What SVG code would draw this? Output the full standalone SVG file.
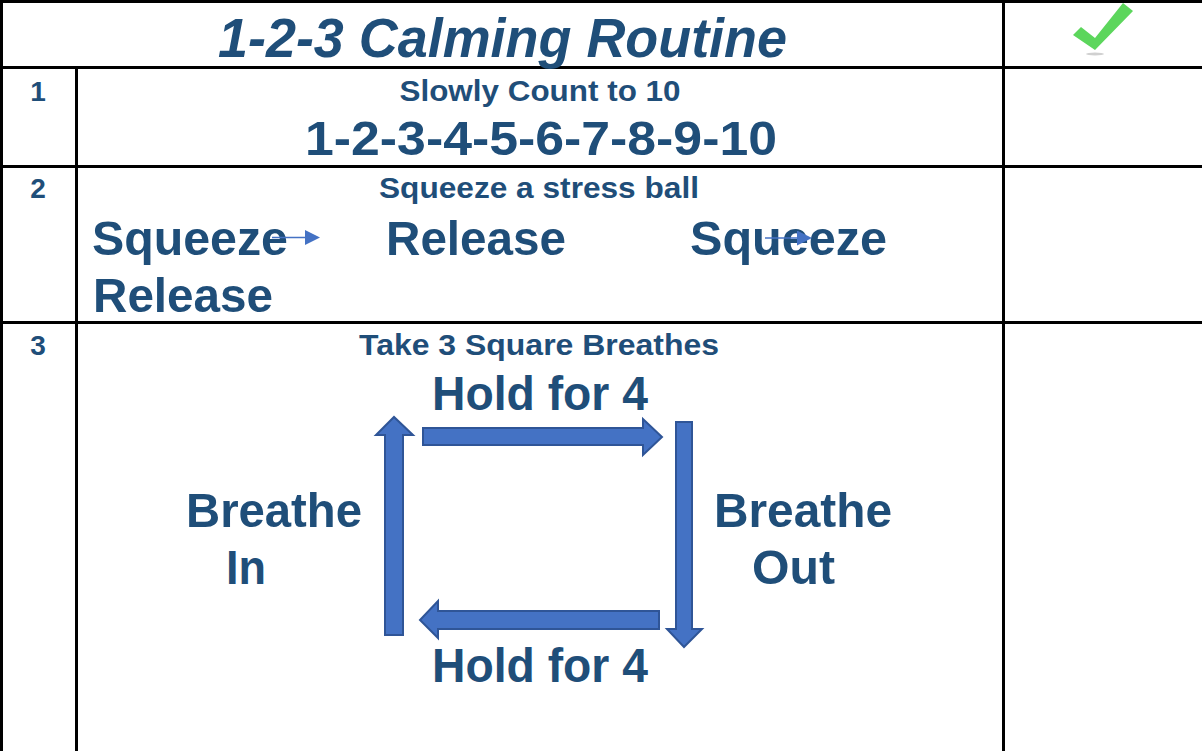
<svg xmlns="http://www.w3.org/2000/svg" width="1202" height="751" viewBox="0 0 1202 751">
  <style>
    .grid { stroke: #000; stroke-width: 3; fill: none; }
    .t { font-family: "Liberation Sans", Arial, sans-serif; font-weight: bold; fill: #1F4E79; }
    .num { font-size: 28px; text-anchor: middle; }
    .sub { font-size: 29px; text-anchor: middle; }
    .big { font-size: 49px; }
    .blk { fill: #4472C4; stroke: #2F5597; stroke-width: 2; stroke-linejoin: miter; }
  </style>
  <defs>
    <marker id="tri" viewBox="0 0 10 10" refX="0" refY="5" markerWidth="15" markerHeight="15" markerUnits="userSpaceOnUse" orient="auto">
      <path d="M0,0 L10,5 L0,10 Z" fill="#4472C4"/>
    </marker>
  </defs>
  <rect width="1202" height="751" fill="#fff"/>

  <!-- table rules -->
  <g id="table" class="grid">
    <line x1="0" y1="1.5" x2="1202" y2="1.5"/>
    <line x1="1.5" y1="0" x2="1.5" y2="751"/>
    <line x1="0" y1="67.5" x2="1202" y2="67.5"/>
    <line x1="0" y1="166.5" x2="1202" y2="166.5"/>
    <line x1="0" y1="322.5" x2="1202" y2="322.5"/>
    <line x1="76.5" y1="67" x2="76.5" y2="751"/>
    <line x1="1003.5" y1="0" x2="1003.5" y2="751"/>
  </g>

  <!-- header -->
  <g id="title">
    <text class="t" x="218" y="57" font-size="56" font-style="italic" textLength="569" lengthAdjust="spacingAndGlyphs">1-2-3 Calming Routine</text>
  </g>
  <g id="check">
    <ellipse cx="1095" cy="54" rx="9" ry="1.5" fill="#d0d0d0"/>
    <path d="M1073,35 L1081,27 L1095,38 L1123,3 L1133,11 L1095,50 Z" fill="#5CD65C"/>
  </g>

  <!-- step 1 -->
  <g id="step1">
    <text class="t num" x="38" y="101">1</text>
    <text class="t sub" x="540" y="101" textLength="281" lengthAdjust="spacingAndGlyphs">Slowly Count to 10</text>
    <text class="t" x="305" y="155" font-size="49" textLength="472" lengthAdjust="spacingAndGlyphs">1-2-3-4-5-6-7-8-9-10</text>
  </g>

  <!-- step 2 -->
  <g id="step2">
    <text class="t num" x="38" y="198">2</text>
    <text class="t sub" x="539" y="198" textLength="320" lengthAdjust="spacingAndGlyphs">Squeeze a stress ball</text>
    <text class="t big" x="92" y="255" textLength="196" lengthAdjust="spacingAndGlyphs">Squeeze</text>
    <text class="t big" x="386" y="255" textLength="180" lengthAdjust="spacingAndGlyphs">Release</text>
    <text class="t big" x="690" y="255" textLength="197" lengthAdjust="spacingAndGlyphs">Squeeze</text>
    <text class="t big" x="93" y="312" textLength="180" lengthAdjust="spacingAndGlyphs">Release</text>
  </g>

  <!-- step 3 -->
  <g id="step3">
    <text class="t num" x="38" y="355">3</text>
    <text class="t sub" x="539" y="355" textLength="360" lengthAdjust="spacingAndGlyphs">Take 3 Square Breathes</text>
    <text class="t big" x="432" y="410" textLength="216" lengthAdjust="spacingAndGlyphs">Hold for 4</text>
    <text class="t big" x="186" y="527" textLength="176" lengthAdjust="spacingAndGlyphs">Breathe</text>
    <text class="t big" x="226" y="584" textLength="40" lengthAdjust="spacingAndGlyphs">In</text>
    <text class="t big" x="714" y="527" textLength="178" lengthAdjust="spacingAndGlyphs">Breathe</text>
    <text class="t big" x="752" y="584" textLength="83" lengthAdjust="spacingAndGlyphs">Out</text>
    <text class="t big" x="432" y="682" textLength="216" lengthAdjust="spacingAndGlyphs">Hold for 4</text>
  </g>

  <!-- connectors -->
  <g id="connectors">
    <line x1="272" y1="237.5" x2="305" y2="237.5" stroke="#4472C4" stroke-width="1.5" marker-end="url(#tri)"/>
    <line x1="765" y1="238" x2="797" y2="238" stroke="#4472C4" stroke-width="1.5" marker-end="url(#tri)"/>
    <!-- up: breathe in -->
    <path class="blk" d="M385,635 L385,435 L376,435 L394,417 L413,435 L403,435 L403,635 Z"/>
    <!-- right: hold -->
    <path class="blk" d="M423,428 L643,428 L643,419 L662,437 L643,455 L643,445 L423,445 Z"/>
    <!-- down: breathe out -->
    <path class="blk" d="M676,422 L692,422 L692,629 L702,629 L684,647 L667,629 L676,629 Z"/>
    <!-- left: hold -->
    <path class="blk" d="M659,611 L438,611 L438,601 L420,620 L438,638 L438,629 L659,629 Z"/>
  </g>
</svg>
